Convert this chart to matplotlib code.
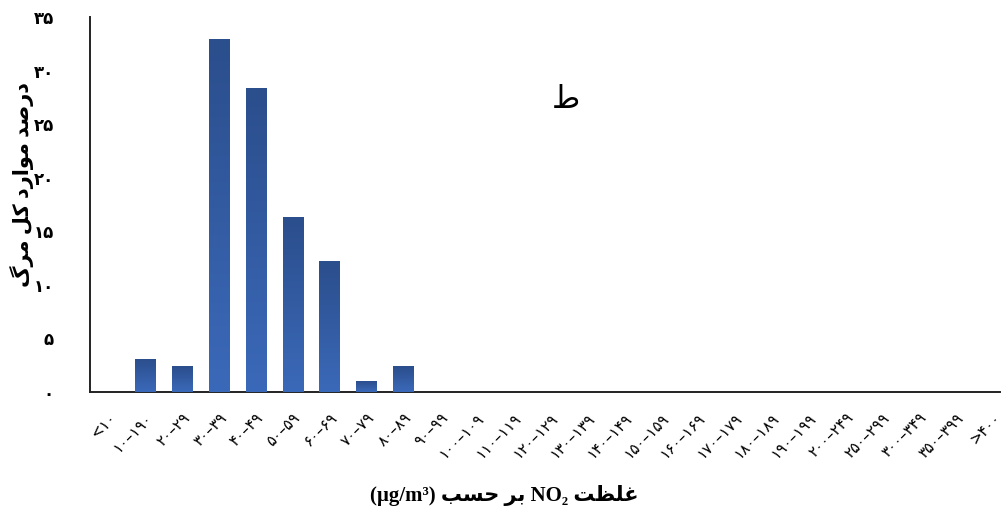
import numpy as np
import matplotlib
matplotlib.use("Agg")
import matplotlib.pyplot as plt
from matplotlib.colors import LinearSegmentedColormap

# categories (visual form, persian digits)
categories = ["<۱۰", "۱۰–۱۹۰", "۲۰–۲۹", "۳۰–۳۹", "۴۰–۴۹", "۵۰–۵۹", "۶۰–۶۹",
              "۷۰–۷۹", "۸۰–۸۹", "۹۰–۹۹", "۱۰۰–۱۰۹", "۱۱۰–۱۱۹", "۱۲۰–۱۲۹",
              "۱۳۰–۱۳۹", "۱۴۰–۱۴۹", "۱۵۰–۱۵۹", "۱۶۰–۱۶۹", "۱۷۰–۱۷۹",
              "۱۸۰–۱۸۹", "۱۹۰–۱۹۹", "۲۰۰–۲۴۹", "۲۵۰–۲۹۹", "۳۰۰–۳۴۹",
              "۳۵۰–۳۹۹", ">۴۰۰"]
# percent of total deaths
values = [0, 3.1, 2.4, 33.0, 28.4, 16.4, 12.2, 1.0, 2.4, 0, 0, 0, 0,
          0, 0, 0, 0, 0, 0, 0, 0, 0, 0, 0, 0]
yticks = [0, 5, 10, 15, 20, 25, 30, 35]
ytick_labels = ["۰", "۵", "۱۰", "۱۵", "۲۰", "۲۵", "۳۰", "۳۵"]

# persian labels, written as shaped glyphs in visual (left to right) order
# "درصد موارد کل مرگ"
ylabel_txt = ("\uFB92\uFEAE\uFEE3" + " " + "\uFEDE\uFB90" + " " +
              "\uFEA9\uFEAD\uFE8D\uFEEE\uFEE3" + " " + "\uFEAA\uFEBB\uFEAD\uFEA9")
# "غلظت NO2 بر حسب (µg/m3)"
xlabel_txt = ("(µg/m³) " + "\uFE90\uFEB4\uFEA3" + " " + "\uFEAE\uFE91" +
              " NO₂ " + "\uFE96\uFEC8\uFEE0\uFECF")
panel_txt = "\uFEC1"  # ط

fig = plt.figure(figsize=(10.03, 5.11), dpi=100)
ax = fig.add_axes([0.0897, 0.2329, 0.9073, 0.7329])

x = np.arange(len(categories))
bars = ax.bar(x, values, width=0.55, color="#3360A8", edgecolor="none", zorder=2)

# vertical gradient inside each bar
grad = np.linspace(0, 1, 256).reshape(-1, 1)
cmap = LinearSegmentedColormap.from_list("g", ["#2B4E8C", "#3B69B9"])
for b in bars:
    if b.get_height() <= 0:
        continue
    x0 = b.get_x()
    im = ax.imshow(grad, extent=[x0, x0 + b.get_width(), 0, b.get_height()],
                   aspect="auto", cmap=cmap, origin="upper", zorder=3)
    im.set_clip_path(b)

ax.set_xlim(-0.5, 24.19)
ax.set_ylim(0, 35)

for s in ["top", "right"]:
    ax.spines[s].set_visible(False)
for s in ["left", "bottom"]:
    ax.spines[s].set_linewidth(1.4)
    ax.spines[s].set_color("#222222")

ax.set_xticks(x)
ax.set_xticklabels(categories, rotation=45, ha="right", rotation_mode="anchor",
                   fontsize=11, fontfamily="DejaVu Sans")
ax.set_yticks(yticks)
ax.set_yticklabels(ytick_labels, fontsize=12, fontweight="bold", fontfamily="DejaVu Sans")
ax.tick_params(axis="x", length=0, pad=13)
ax.tick_params(axis="y", length=0, pad=26)

fig.text(0.022, 0.638, ylabel_txt, rotation=90, ha="center", va="center",
         fontsize=15, fontweight="bold", family=["Liberation Serif", "DejaVu Sans"])
fig.text(0.503, 0.03, xlabel_txt, ha="center", va="center",
         fontsize=15, fontweight="bold", family=["Liberation Serif", "DejaVu Sans"])
ax.text(0.523, 0.78, panel_txt, transform=ax.transAxes, ha="center", va="center",
        fontsize=22, family=["DejaVu Sans"])

fig.savefig("out.png", dpi=100)
